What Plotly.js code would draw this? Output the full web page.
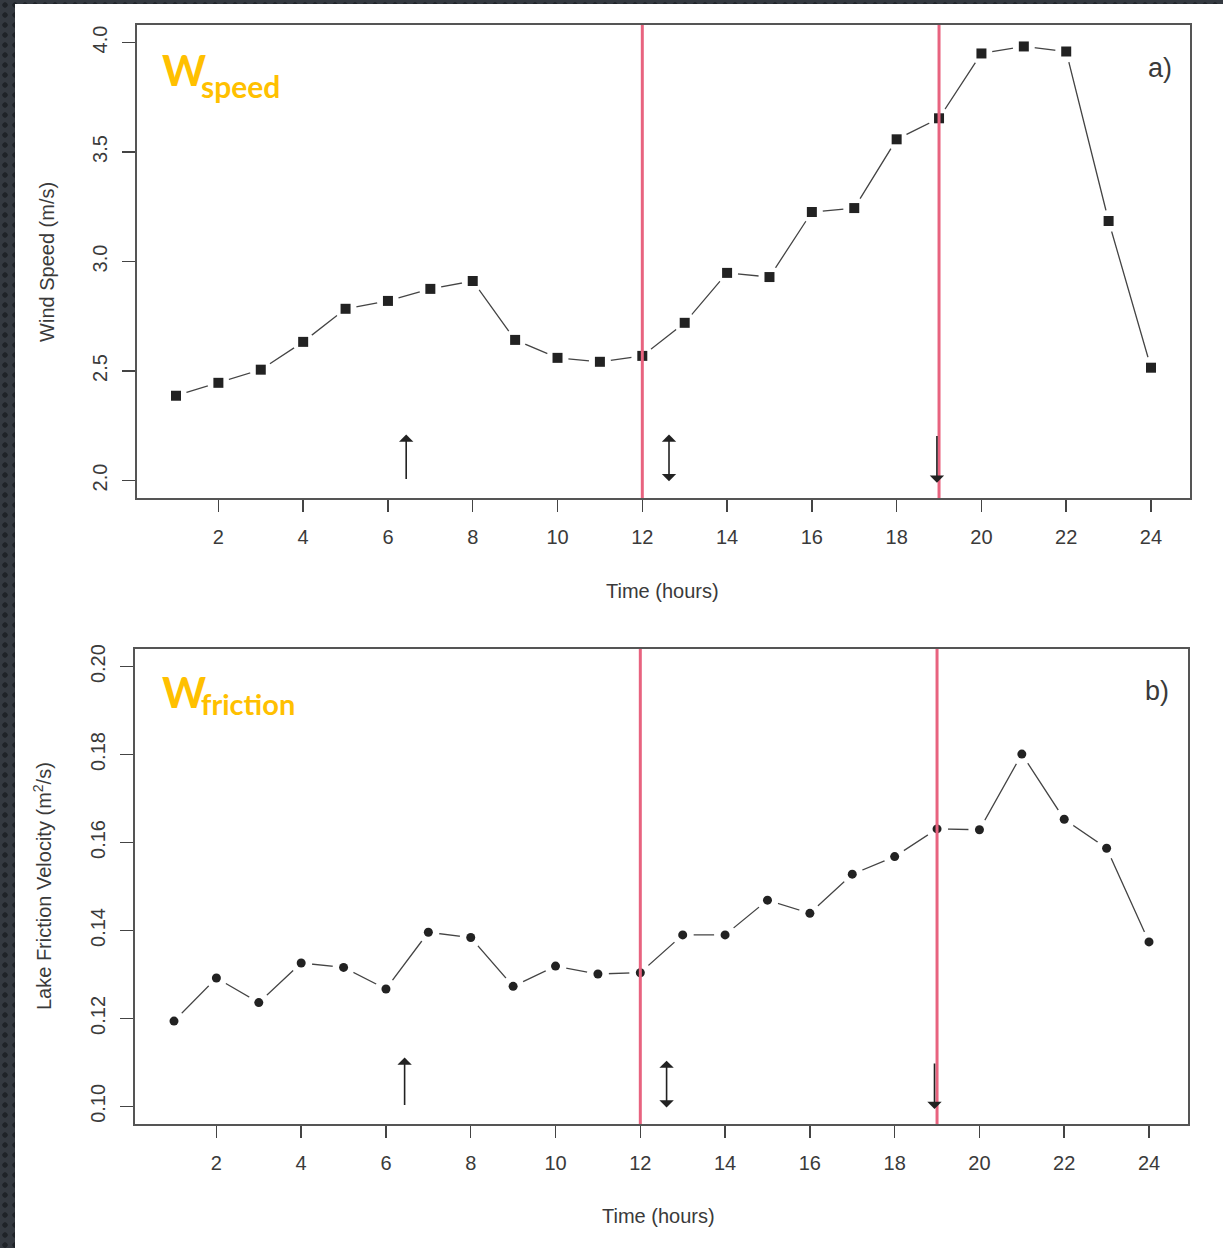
<!DOCTYPE html>
<html>
<head>
<meta charset="utf-8">
<script src="https://cdn.plot.ly/plotly-3.0.1.min.js"></script>
<style>
  html, body { margin: 0; padding: 0; width: 1223px; height: 1248px; overflow: hidden; }
  body {
    background-color: #343940;
    background-image: radial-gradient(circle, #1f2328 2.4px, transparent 3px);
    background-size: 10px 10px;
    background-position: 0px 0px;
  }
  #chart { position: absolute; left: 15px; top: 4px; width: 1208px; height: 1244px; background: #ffffff; }
</style>
</head>
<body>
<div id="chart"></div>
<script>
// Hourly values over one day
const hours = [1,2,3,4,5,6,7,8,9,10,11,12,13,14,15,16,17,18,19,20,21,22,23,24];
const windSpeed = [2.387,2.446,2.506,2.633,2.784,2.820,2.875,2.911,2.642,2.560,2.542,2.569,
                   2.720,2.948,2.929,3.226,3.244,3.558,3.654,3.950,3.982,3.959,3.185,2.515];
const frictionVel = [0.1194,0.1292,0.1236,0.1326,0.1316,0.1267,0.1396,0.1384,0.1273,0.1319,0.1301,0.1304,
                     0.1390,0.1390,0.1469,0.1439,0.1528,0.1568,0.1631,0.1629,0.1801,0.1653,0.1587,0.1374];

// Axis ticks
const xTicks = [2,4,6,8,10,12,14,16,18,20,22,24];
const yTicksA = [2.0,2.5,3.0,3.5,4.0];
const yTickTextA = ["2.0","2.5","3.0","3.5","4.0"];
const yTicksB = [0.10,0.12,0.14,0.16,0.18,0.20];
const yTickTextB = ["0.10","0.12","0.14","0.16","0.18","0.20"];

// Event hours marked with vertical lines
const eventHours = [12, 19];

// Arrow markers: hour, tail value, head value (a: wind speed, b: friction velocity)
const arrowHoursA = [6.43, 12.63, 18.95];
const arrowTailA  = [2.00, 1.99, 2.21];
const arrowHeadA  = [2.21, 2.21, 1.99];
const arrowHoursB = [6.44, 12.62, 18.94];
const arrowTailB  = [0.1000, 0.0994, 0.1101];
const arrowHeadB  = [0.1111, 0.1104, 0.0994];
const arrowBoth   = [false, true, false];

const font = "'Liberation Sans', Arial, sans-serif";
const textCol = "#3a3a3a";
const lineCol = "#444444";
const pointCol = "#222222";
const eventCol = "#e8637f";
const gold = "#FFC000";

function seriesTraces(y, xa, ya, symbol, size) {
  return [
    { x: hours, y: y, xaxis: xa, yaxis: ya, type: "scatter", mode: "lines",
      line: { color: lineCol, width: 1.3 }, hoverinfo: "skip", showlegend: false },
    // white halo gives the gap between segments and points
    { x: hours, y: y, xaxis: xa, yaxis: ya, type: "scatter", mode: "markers",
      marker: { symbol: "circle", size: 22, color: "#ffffff" }, hoverinfo: "skip", showlegend: false },
    { x: hours, y: y, xaxis: xa, yaxis: ya, type: "scatter", mode: "markers",
      marker: { symbol: symbol, size: size, color: pointCol }, showlegend: false }
  ];
}

const data = [
  ...seriesTraces(windSpeed, "x", "y", "square", 10),
  ...seriesTraces(frictionVel, "x2", "y2", "circle", 9)
];

function xAxis(domain, anchor) {
  return {
    domain: domain, anchor: anchor, range: [0.08, 24.92],
    tickmode: "array", tickvals: xTicks, ticktext: xTicks.map(String),
    ticks: "outside", ticklen: 12, tickwidth: 1.5, tickcolor: lineCol,
    ticklabelstandoff: 8,
    showline: true, mirror: true, linecolor: "#555555", linewidth: 2,
    showgrid: false, zeroline: false,
    tickfont: { family: font, size: 20, color: textCol }
  };
}
function yAxis(domain, anchor, range, vals, text) {
  return {
    domain: domain, anchor: anchor, range: range,
    tickmode: "array", tickvals: vals, ticktext: text, tickangle: -90,
    ticks: "outside", ticklen: 13, tickwidth: 1.5, tickcolor: lineCol,
    ticklabelstandoff: 7,
    showline: true, mirror: true, linecolor: "#555555", linewidth: 2,
    showgrid: false, zeroline: false,
    tickfont: { family: font, size: 20, color: textCol }
  };
}

const shapes = [];
eventHours.forEach(h => {
  shapes.push({ type: "line", xref: "x", yref: "y domain", x0: h, x1: h, y0: 0, y1: 1,
                line: { color: eventCol, width: 3 } });
  shapes.push({ type: "line", xref: "x2", yref: "y2 domain", x0: h, x1: h, y0: 0, y1: 1,
                line: { color: eventCol, width: 3 } });
});

const annotations = [];
function addArrows(hrs, tails, heads, xr, yr) {
  hrs.forEach((h, i) => {
    annotations.push({
      xref: xr, yref: yr, axref: xr, ayref: yr,
      x: h, y: heads[i], ax: h, ay: tails[i], text: "",
      showarrow: true, arrowhead: 1, arrowsize: 1.5, arrowwidth: 1.6, arrowcolor: "#222222",
      arrowside: arrowBoth[i] ? "end+start" : "end", startarrowhead: 1, startarrowsize: 1.5
    });
  });
}
addArrows(arrowHoursA, arrowTailA, arrowHeadA, "x", "y");
addArrows(arrowHoursB, arrowTailB, arrowHeadB, "x2", "y2");

function label(xr, yr, x, y, text, size, opts) {
  annotations.push(Object.assign({
    xref: xr, yref: yr, x: x, y: y, text: text, showarrow: false,
    xanchor: "center", yanchor: "middle",
    font: { family: font, size: size, color: textCol }
  }, opts || {}));
}

// Panel letters
label("x domain", "y domain", 0.9715, 0.909, "a)", 27);
label("x2 domain", "y2 domain", 0.9706, 0.912, "b)", 27);

// Axis titles
label("x domain", "y domain", 0.4986, -0.1966, "Time (hours)", 20);
label("x2 domain", "y2 domain", 0.4976, -0.1937, "Time (hours)", 20);
label("x domain", "y domain", -0.0855, 0.499, "Wind Speed (m/s)", 20, { textangle: -90 });
label("x2 domain", "y2 domain", -0.0883, 0.501, "Lake Friction Velocity (m<sup>2</sup>/s)", 20, { textangle: -90 });

// Variable names
const goldFont = (s) => ({ family: "Lato, 'Open Sans', sans-serif", size: s, color: gold, weight: 700 });
label("x domain", "y domain", 0.0215, 0.905, "W", 42, { xanchor: "left", font: goldFont(42) });
label("x domain", "y domain", 0.0589, 0.872, "speed", 30, { xanchor: "left", font: goldFont(30) });
label("x2 domain", "y2 domain", 0.0234, 0.909, "W", 42, { xanchor: "left", font: goldFont(42) });
label("x2 domain", "y2 domain", 0.0608, 0.886, "friction", 29, { xanchor: "left", font: goldFont(29) });

const layout = {
  width: 1208, height: 1244,
  margin: { l: 0, r: 0, t: 0, b: 0 },
  paper_bgcolor: "#ffffff", plot_bgcolor: "#ffffff",
  showlegend: false,
  xaxis: xAxis([0.10099, 0.97268], "y"),
  yaxis: yAxis([0.60289, 0.98312], "x", [1.92, 4.08], yTicksA, yTickTextA),
  xaxis2: xAxis([0.09934, 0.97103], "y2"),
  yaxis2: yAxis([0.09968, 0.48151], "x2", [0.096, 0.204], yTicksB, yTickTextB),
  shapes: shapes,
  annotations: annotations
};

Plotly.newPlot("chart", data, layout, { staticPlot: true, displayModeBar: false });
</script>
</body>
</html>
